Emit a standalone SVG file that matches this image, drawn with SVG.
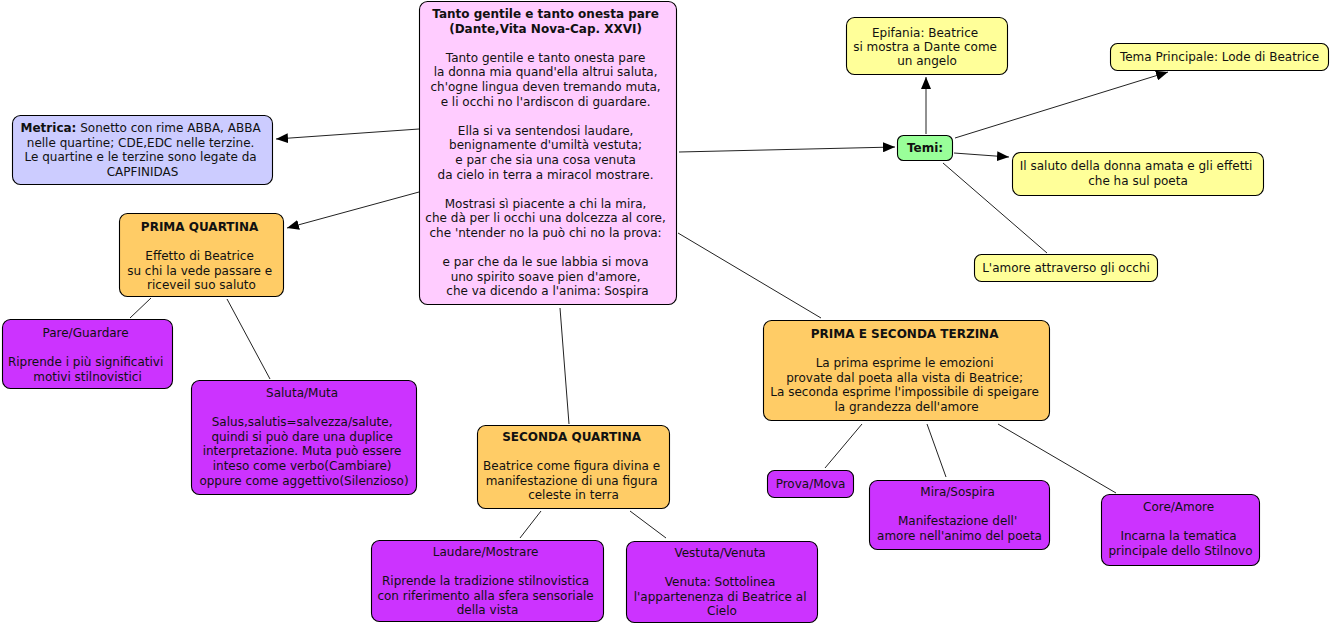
<svg xmlns="http://www.w3.org/2000/svg" width="1331" height="626" viewBox="0 0 1331 626">
<defs>
<style>
.n{stroke:#000;stroke-width:1.1}
.t{font-family:"DejaVu Sans",Verdana,sans-serif;font-size:12px;fill:#111;text-anchor:middle}
.b{font-weight:bold}
.c line{stroke:#222;stroke-width:1}
.pink{fill:#FFCCFF}.lav{fill:#CCCCFF}.org{fill:#FFCC66}.pur{fill:#CC33FF}.grn{fill:#99FF99}.yel{fill:#FFFF99}
</style>
<marker id="ah" markerUnits="userSpaceOnUse" markerWidth="13" markerHeight="10" refX="12" refY="5" orient="auto">
<path d="M0,0 L12,5 L0,10 z" fill="#000"/>
</marker>
</defs>
<rect width="1331" height="626" fill="#fff"/>
<g id="connectors" class="c">
<line x1="419" y1="129" x2="276" y2="139" marker-end="url(#ah)"/>
<line x1="419" y1="192" x2="287" y2="228" marker-end="url(#ah)"/>
<line x1="679" y1="152" x2="895" y2="147" marker-end="url(#ah)"/>
<line x1="678" y1="233" x2="821" y2="318"/>
<line x1="560" y1="308" x2="569" y2="424"/>
<line x1="151" y1="298" x2="130" y2="318"/>
<line x1="227" y1="299" x2="270" y2="379"/>
<line x1="541" y1="511" x2="520" y2="538"/>
<line x1="630" y1="511" x2="666" y2="538"/>
<line x1="862" y1="424" x2="825" y2="468"/>
<line x1="927" y1="424" x2="946" y2="477"/>
<line x1="998" y1="424" x2="1116" y2="493"/>
<line x1="926" y1="134" x2="926" y2="77" marker-end="url(#ah)"/>
<line x1="955" y1="138" x2="1168" y2="72" marker-end="url(#ah)"/>
<line x1="954" y1="153" x2="1009" y2="157" marker-end="url(#ah)"/>
<line x1="943" y1="163" x2="1047" y2="253"/>
</g>
<g id="central">
<rect class="n pink" x="419.5" y="1.5" width="257" height="303" rx="8"/>
<text class="t" y="18">
<tspan class="b" x="547.5">Tanto gentile e tanto onesta pare</tspan>
<tspan class="b" x="547.5" dy="14.6">(Dante,Vita Nova-Cap. XXVI)</tspan>
<tspan x="547.5" dy="29.2">Tanto gentile e tanto onesta pare</tspan>
<tspan x="547.5" dy="14.6">la donna mia quand'ella altrui saluta,</tspan>
<tspan x="547.5" dy="14.6">ch'ogne lingua deven tremando muta,</tspan>
<tspan x="547.5" dy="14.6">e li occhi no l'ardiscon di guardare.</tspan>
<tspan x="547.5" dy="29.2">Ella si va sentendosi laudare,</tspan>
<tspan x="547.5" dy="14.6">benignamente d'umiltà vestuta;</tspan>
<tspan x="547.5" dy="14.6">e par che sia una cosa venuta</tspan>
<tspan x="547.5" dy="14.6">da cielo in terra a miracol mostrare.</tspan>
<tspan x="547.5" dy="29.2">Mostrasi sì piacente a chi la mira,</tspan>
<tspan x="547.5" dy="14.6">che dà per li occhi una dolcezza al core,</tspan>
<tspan x="547.5" dy="14.6">che 'ntender no la può chi no la prova:</tspan>
<tspan x="547.5" dy="29.2">e par che da le sue labbia si mova</tspan>
<tspan x="547.5" dy="14.6">uno spirito soave pien d'amore,</tspan>
<tspan x="547.5" dy="14.6">che va dicendo a l'anima: Sospira</tspan>
</text>
</g>
<g id="metrica">
<rect class="n lav" x="12.5" y="115.5" width="260" height="69" rx="8"/>
<text class="t" y="132">
<tspan x="142.5"><tspan class="b">Metrica:</tspan> Sonetto con rime ABBA, ABBA</tspan>
<tspan x="142.5" dy="14.6">nelle quartine; CDE,EDC nelle terzine.</tspan>
<tspan x="142.5" dy="14.6">Le quartine e le terzine sono legate da</tspan>
<tspan x="142.5" dy="14.6">CAPFINIDAS</tspan>
</text>
</g>
<g id="prima-quartina">
<rect class="n org" x="119.5" y="213.5" width="164" height="83" rx="8"/>
<text class="t" y="231">
<tspan class="b" x="201.5">PRIMA QUARTINA</tspan>
<tspan x="201.5" dy="29.2">Effetto di Beatrice</tspan>
<tspan x="201.5" dy="14.6">su chi la vede passare e</tspan>
<tspan x="201.5" dy="14.6">riceveil suo saluto</tspan>
</text>
</g>
<g id="pare-guardare">
<rect class="n pur" x="2.5" y="319.5" width="170" height="69" rx="8"/>
<text class="t" y="337">
<tspan x="87.5">Pare/Guardare</tspan>
<tspan x="87.5" dy="29.2">Riprende i più significativi</tspan>
<tspan x="87.5" dy="14.6">motivi stilnovistici</tspan>
</text>
</g>
<g id="saluta-muta">
<rect class="n pur" x="191.5" y="380.5" width="225" height="114" rx="8"/>
<text class="t" y="397">
<tspan x="304">Saluta/Muta</tspan>
<tspan x="304" dy="29.2">Salus,salutis=salvezza/salute,</tspan>
<tspan x="304" dy="14.6">quindi si può dare una duplice</tspan>
<tspan x="304" dy="14.6">interpretazione. Muta può essere</tspan>
<tspan x="304" dy="14.6">inteso come verbo(Cambiare)</tspan>
<tspan x="304" dy="14.6">oppure come aggettivo(Silenzioso)</tspan>
</text>
</g>
<g id="seconda-quartina">
<rect class="n org" x="477.5" y="425.5" width="192" height="83" rx="8"/>
<text class="t" y="441">
<tspan class="b" x="573.5">SECONDA QUARTINA</tspan>
<tspan x="573.5" dy="29.2">Beatrice come figura divina e</tspan>
<tspan x="573.5" dy="14.6">manifestazione di una figura</tspan>
<tspan x="573.5" dy="14.6">celeste in terra</tspan>
</text>
</g>
<g id="laudare-mostrare">
<rect class="n pur" x="371.5" y="540.5" width="232" height="81" rx="8"/>
<text class="t" y="556">
<tspan x="487.5">Laudare/Mostrare</tspan>
<tspan x="487.5" dy="29.2">Riprende la tradizione stilnovistica</tspan>
<tspan x="487.5" dy="14.6">con riferimento alla sfera sensoriale</tspan>
<tspan x="487.5" dy="14.6">della vista</tspan>
</text>
</g>
<g id="vestuta-venuta">
<rect class="n pur" x="626.5" y="541.5" width="191" height="81" rx="8"/>
<text class="t" y="557">
<tspan x="722">Vestuta/Venuta</tspan>
<tspan x="722" dy="29.2">Venuta: Sottolinea</tspan>
<tspan x="722" dy="14.6">l'appartenenza di Beatrice al</tspan>
<tspan x="722" dy="14.6">Cielo</tspan>
</text>
</g>
<g id="terzina">
<rect class="n org" x="763.5" y="320.5" width="286" height="100" rx="8"/>
<text class="t" y="338">
<tspan class="b" x="906.5">PRIMA E SECONDA TERZINA</tspan>
<tspan x="906.5" dy="29.2">La prima esprime le emozioni</tspan>
<tspan x="906.5" dy="14.6">provate dal poeta alla vista di Beatrice;</tspan>
<tspan x="906.5" dy="14.6">La seconda esprime l'impossibile di speigare</tspan>
<tspan x="906.5" dy="14.6">la grandezza dell'amore</tspan>
</text>
</g>
<g id="prova-mova">
<rect class="n pur" x="767.5" y="470.5" width="86" height="27" rx="7"/>
<text class="t" x="810.5" y="488">Prova/Mova</text>
</g>
<g id="mira-sospira">
<rect class="n pur" x="869.5" y="480.5" width="180" height="69" rx="8"/>
<text class="t" y="496">
<tspan x="959.5">Mira/Sospira</tspan>
<tspan x="959.5" dy="29.2">Manifestazione dell'</tspan>
<tspan x="959.5" dy="14.6">amore nell'animo del poeta</tspan>
</text>
</g>
<g id="core-amore">
<rect class="n pur" x="1101.5" y="494.5" width="158" height="71" rx="8"/>
<text class="t" y="511">
<tspan x="1180.5">Core/Amore</tspan>
<tspan x="1180.5" dy="29.2">Incarna la tematica</tspan>
<tspan x="1180.5" dy="14.6">principale dello Stilnovo</tspan>
</text>
</g>
<g id="temi">
<rect class="n grn" x="897.5" y="135.5" width="55" height="25" rx="6"/>
<text class="t b" x="925" y="152">Temi:</text>
</g>
<g id="epifania">
<rect class="n yel" x="846.5" y="17.5" width="161" height="57" rx="8"/>
<text class="t" y="37">
<tspan x="927">Epifania: Beatrice</tspan>
<tspan x="927" dy="14">si mostra a Dante come</tspan>
<tspan x="927" dy="14">un angelo</tspan>
</text>
</g>
<g id="tema-principale">
<rect class="n yel" x="1110.5" y="43.5" width="218" height="27" rx="7"/>
<text class="t" x="1219.5" y="61">Tema Principale: Lode di Beatrice</text>
</g>
<g id="il-saluto">
<rect class="n yel" x="1012.5" y="152.5" width="251" height="43" rx="8"/>
<text class="t" y="170">
<tspan x="1138">Il saluto della donna amata e gli effetti</tspan>
<tspan x="1138" dy="14.6">che ha sul poeta</tspan>
</text>
</g>
<g id="amore-occhi">
<rect class="n yel" x="974.5" y="254.5" width="183" height="27" rx="7"/>
<text class="t" x="1066" y="272">L'amore attraverso gli occhi</text>
</g>
</svg>
